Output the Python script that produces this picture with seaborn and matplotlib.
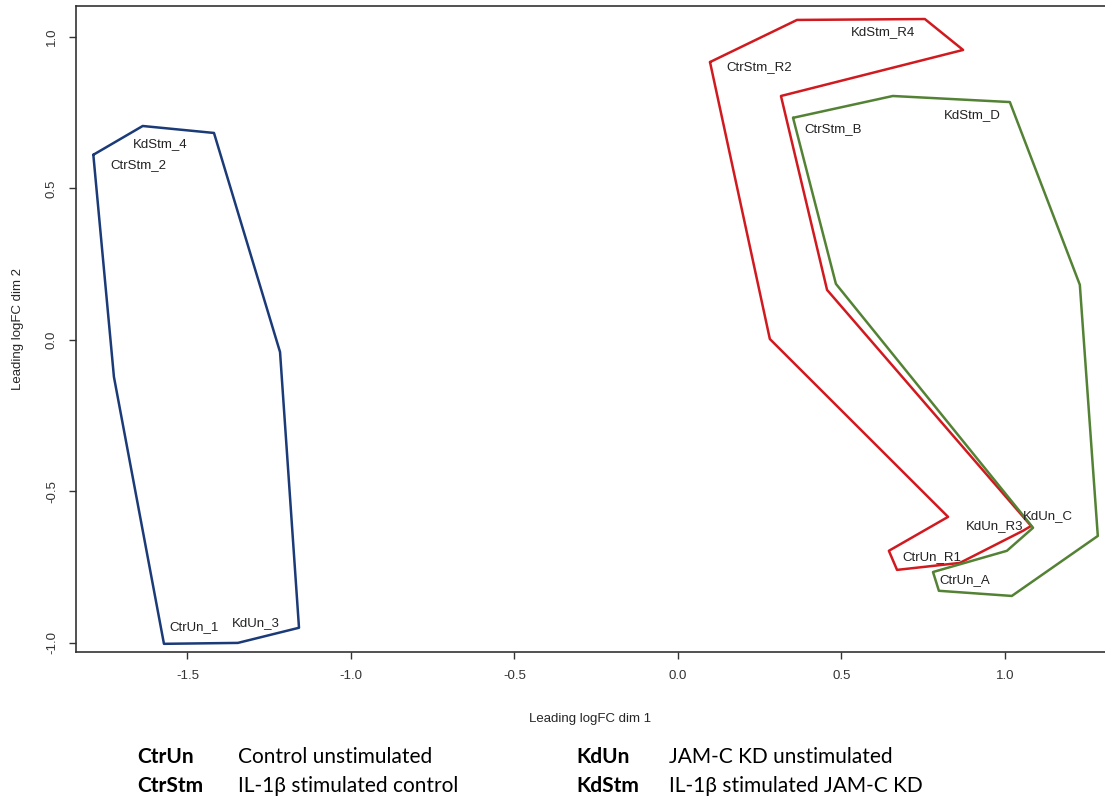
import matplotlib
matplotlib.use("Agg")
import matplotlib.pyplot as plt
import seaborn as sns
import pandas as pd

# ---- data (MDS coordinates) ----
blue_x = [-1.788, -1.637, -1.419, -1.217, -1.159, -1.346, -1.572, -1.725]
blue_y = [0.611, 0.706, 0.683, -0.040, -0.950, -1.000, -1.003, -0.122]

red_x = [0.098, 0.364, 0.755, 0.872, 0.315, 0.456, 1.080, 1.055, 0.862, 0.670, 0.645, 0.826, 0.281]
red_y = [0.917, 1.056, 1.059, 0.957, 0.805, 0.165, -0.614, -0.630, -0.736, -0.759, -0.696, -0.584, 0.003]

green_x = [0.352, 0.657, 1.015, 1.229, 1.284, 1.021, 0.798, 0.780, 1.006, 1.086, 0.483]
green_y = [0.733, 0.805, 0.785, 0.182, -0.647, -0.845, -0.828, -0.766, -0.696, -0.620, 0.185]

sample_labels = ["KdStm_4", "CtrStm_2", "CtrUn_1", "KdUn_3",
                 "CtrStm_R2", "KdStm_R4", "CtrStm_B", "KdStm_D",
                 "KdUn_C", "KdUn_R3", "CtrUn_R1", "CtrUn_A"]
label_x = [-1.583, -1.650, -1.481, -1.292, 0.248, 0.628, 0.474, 0.900,
           1.131, 0.968, 0.777, 0.876]
label_y = [0.646, 0.578, -0.949, -0.934, 0.901, 1.015, 0.696, 0.743,
           -0.581, -0.614, -0.716, -0.792]

x_ticks = [-1.5, -1.0, -0.5, 0.0, 0.5, 1.0]
y_ticks = [-1.0, -0.5, 0.0, 0.5, 1.0]

legend_keys = ["CtrUn", "CtrStm", "KdUn", "KdStm"]
legend_desc = ["Control unstimulated", "IL-1\u03b2 stimulated control",
               "JAM-C KD unstimulated", "IL-1\u03b2 stimulated JAM-C KD"]

colors = {"blue": "#1b3a78", "red": "#d01a1f", "green": "#548235"}

# ---- build table ----
rows = []
for name, xs, ys in [("blue", blue_x, blue_y), ("red", red_x, red_y), ("green", green_x, green_y)]:
    xs_c = xs + [xs[0]]
    ys_c = ys + [ys[0]]
    for i, (a, b) in enumerate(zip(xs_c, ys_c)):
        rows.append({"group": name, "order": i, "x": a, "y": b})
df = pd.DataFrame(rows)

sns.set_theme(style="ticks")
narrow = ["Liberation Sans Narrow", "Liberation Sans", "DejaVu Sans"]
plt.rcParams["font.family"] = ["Liberation Sans", "DejaVu Sans"]

fig = plt.figure(figsize=(11.05, 7.96), dpi=100)
ax = fig.add_axes([76 / 1105, 144 / 796, 1 - 76 / 1105, (652 - 6) / 796])

for name in ["blue", "red", "green"]:
    sub = df[df["group"] == name]
    sns.lineplot(data=sub, x="x", y="y", sort=False, estimator=None,
                 color=colors[name], linewidth=1.8, ax=ax, legend=False)

for t, a, b in zip(sample_labels, label_x, label_y):
    ax.text(a, b, t, ha="center", va="center", fontsize=9.5, color="#222222")

ax.set_xlim(-1.841, 1.306)
ax.set_ylim(-1.030, 1.102)
ax.set_xticks(x_ticks)
ax.set_yticks(y_ticks)
ax.set_xticklabels([f"{v:.1f}" for v in x_ticks], family=narrow, fontsize=9.5)
ax.set_yticklabels([f"{v:.1f}" for v in y_ticks], family=narrow, fontsize=9.5,
                   rotation=90, va="center")
ax.tick_params(direction="out", length=5, width=1, colors="#333333", pad=8)
ax.set_xlabel("Leading logFC dim 1", family=narrow, fontsize=9.5, labelpad=22)
ax.set_ylabel("Leading logFC dim 2", family=narrow, fontsize=9.5, labelpad=16)
for s in ["left", "top", "bottom"]:
    ax.spines[s].set_color("#333333")
    ax.spines[s].set_linewidth(1.2)
ax.spines["right"].set_visible(False)

# ---- bottom legend text ----
lx_key = [137 / 1105, 137 / 1105, 576 / 1105, 576 / 1105]
lx_desc = [238 / 1105, 238 / 1105, 669 / 1105, 669 / 1105]
ly = [1 - 757 / 796, 1 - 786 / 796, 1 - 757 / 796, 1 - 786 / 796]
for k, d, xk, xd, yy in zip(legend_keys, legend_desc, lx_key, lx_desc, ly):
    fig.text(xk, yy, k, fontsize=15, fontweight="bold", family=["Lato", "DejaVu Sans"],
             ha="left", va="center", color="black")
    fig.text(xd, yy, d, fontsize=15, family=["Lato", "DejaVu Sans"],
             ha="left", va="center", color="black")

fig.savefig("out.png", dpi=100)
